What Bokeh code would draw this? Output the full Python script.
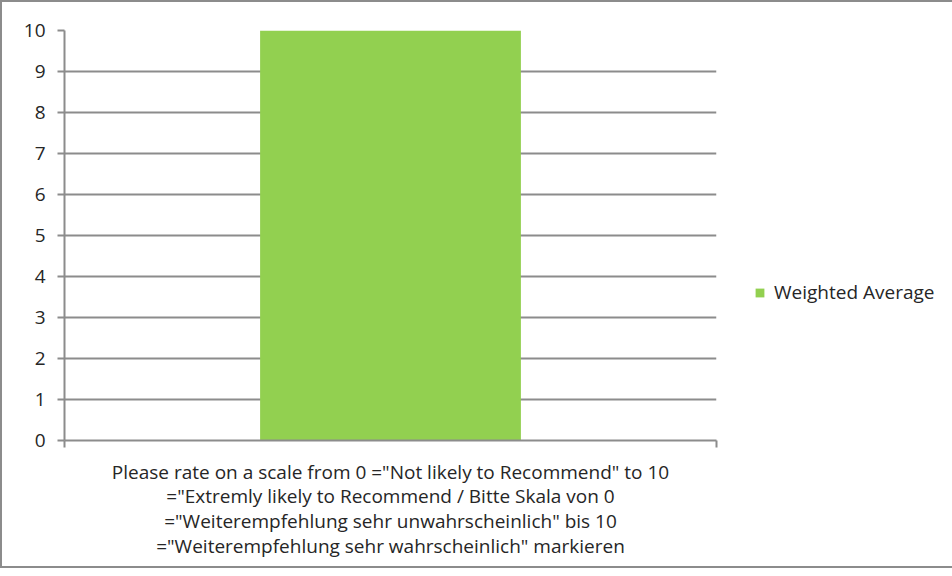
from bokeh.plotting import figure
from bokeh.models import ColumnDataSource, FixedTicker, Legend, LegendItem, Range1d
from bokeh.embed import file_html
from bokeh.resources import INLINE

categories = ['Please rate on a scale from 0 ="Not likely to Recommend" to 10\n'
              '="Extremly likely to Recommend / Bitte Skala von 0\n'
              '="Weiterempfehlung sehr unwahrscheinlich" bis 10\n'
              '="Weiterempfehlung sehr wahrscheinlich" markieren']
series_name = "Weighted Average"
values = [10]
y_ticks = [0, 1, 2, 3, 4, 5, 6, 7, 8, 9, 10]

FONT = "Open Sans"
GRAY = "#8c8c8c"
TXT = "#262626"
FS = "19px"

xs = [i + 0.5 for i in range(len(categories))]
src = ColumnDataSource(dict(x=xs, top=values, label=categories))

p = figure(frame_width=652, frame_height=410, output_backend="svg", toolbar_location=None,
           x_range=Range1d(0, len(categories)), y_range=Range1d(0, 10))
p.min_border_left = 62
p.min_border_right = 226
p.min_border_top = 28
p.min_border_bottom = 126
p.outline_line_color = None
p.background_fill_color = "white"
p.border_fill_color = "white"
p.styles = {"border": "2px solid #8c8c8c"}

r = p.vbar(x="x", top="top", bottom=0, width=0.4, source=src,
           fill_color="#92D050", line_color=None)

# y axis
p.yaxis.ticker = FixedTicker(ticks=y_ticks)
p.yaxis.axis_line_color = GRAY
p.yaxis.axis_line_width = 2
p.yaxis.major_tick_line_color = GRAY
p.yaxis.major_tick_line_width = 2
p.yaxis.major_tick_in = 0
p.yaxis.major_tick_out = 7
p.yaxis.minor_tick_line_color = None
p.yaxis.major_label_text_font = FONT
p.yaxis.major_label_text_font_size = FS
p.yaxis.major_label_text_color = TXT
p.yaxis.major_label_standoff = 12

p.ygrid.ticker = FixedTicker(ticks=y_ticks)
p.ygrid.grid_line_color = GRAY
p.ygrid.grid_line_width = 2
p.xgrid.grid_line_color = None

# x axis: category labels centered, boundary ticks as minor ticks
p.xaxis.ticker = FixedTicker(ticks=xs, minor_ticks=list(range(len(categories) + 1)))
p.xaxis.major_label_overrides = {x: c for x, c in zip(xs, categories)}
p.xaxis.axis_line_color = GRAY
p.xaxis.axis_line_width = 2
p.xaxis.major_tick_line_color = None
p.xaxis.major_tick_in = 0
p.xaxis.major_tick_out = 0
p.xaxis.minor_tick_line_color = GRAY
p.xaxis.minor_tick_line_width = 2
p.xaxis.minor_tick_in = 0
p.xaxis.minor_tick_out = 7
p.xaxis.major_label_text_font = FONT
p.xaxis.major_label_text_font_size = FS
p.xaxis.major_label_text_color = TXT
p.xaxis.major_label_text_line_height = 0.95
p.xaxis.major_label_standoff = 11
p.xaxis.major_label_text_align = "center"

legend = Legend(items=[LegendItem(label=series_name, renderers=[r])],
                location=(38, 135), border_line_color=None, background_fill_alpha=0,
                label_text_font=FONT, label_text_font_size=FS,
                label_text_color=TXT, glyph_width=11, glyph_height=11,
                label_standoff=9, padding=0, margin=0)
p.add_layout(legend, "right")

open("out.html", "w").write(file_html(p, INLINE))
